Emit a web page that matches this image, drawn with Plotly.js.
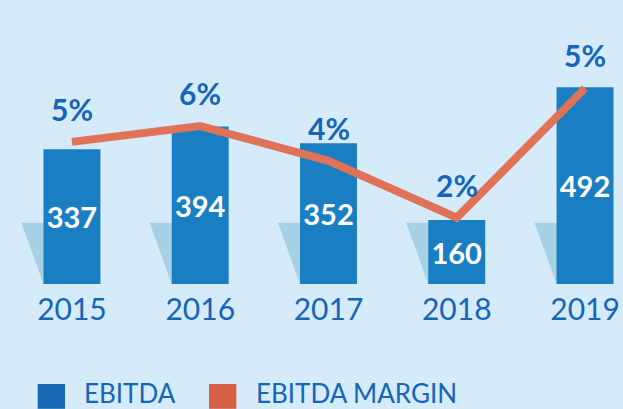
<!DOCTYPE html>
<html>
<head>
<meta charset="utf-8">
<script src="https://cdn.plot.ly/plotly-3.0.1.min.js"></script>
<style>html,body{margin:0;padding:0;background:#d5ebfa;}#chart{width:623px;height:409px;}</style>
</head>
<body>
<div id="chart"></div>
<script>
// Data
const years = ["2015", "2016", "2017", "2018", "2019"];
const ebitda = [337, 394, 352, 160, 492];
// EBITDA margin line as drawn (estimated heights on its own axis, %)
const marginLine = [4.5, 5.0, 3.9, 2.1, 6.2];
// Margin labels shown in the chart
const marginLabels = ["5%", "6%", "4%", "2%", "5%"];
const seriesNames = ["EBITDA", "EBITDA MARGIN"];

const BLUE = "#1a7fc2";
const LEGEND_BLUE = "#1467b3";
const ORANGE = "#e07257";
const LEGEND_ORANGE = "#d65f45";
const TEXT_BLUE = "#1565b8";
const FONT = "Lato, 'Open Sans', sans-serif";
const BAR_W = 0.444;

const barTrace = {
  type: "bar",
  x: years,
  y: ebitda,
  width: BAR_W,
  marker: {color: BLUE, line: {width: 0}},
  text: ebitda.map(v => "<b>" + v + "</b>"),
  textposition: "inside",
  insidetextanchor: "middle",
  textangle: 0,
  textfont: {family: FONT, size: 29, color: "#ffffff"},
  hoverinfo: "skip",
  showlegend: false,
  cliponaxis: false
};

const lineTrace = {
  type: "scatter",
  mode: "lines",
  x: years,
  y: marginLine,
  yaxis: "y2",
  line: {color: ORANGE, width: 8},
  hoverinfo: "skip",
  showlegend: false,
  cliponaxis: false
};

// Decorative shadows behind each bar
const shapes = years.map((_, i) => {
  const xl = i - BAR_W / 2;
  const off = 0.172;
  return {
    type: "path",
    xref: "x", yref: "y",
    path: `M ${xl - off},153 L ${xl + 0.1},153 L ${xl + 0.1},0 L ${xl},0 Z`,
    fillcolor: "#a6d0e4",
    line: {width: 0},
    layer: "below"
  };
});

// Legend swatches (drawn manually to match large squares)
const legendColors = [LEGEND_BLUE, LEGEND_ORANGE];
const legendX = [0.0605, 0.3355];
legendColors.forEach((c, k) => {
  shapes.push({
    type: "rect", xref: "paper", yref: "paper",
    x0: legendX[k], x1: legendX[k] + 0.0438,
    y0: -0.52, y1: -0.4167,
    fillcolor: c, line: {width: 0}
  });
});

const annotations = years.map((yr, i) => ({
  x: i, y: marginLine[i], xref: "x", yref: "y2",
  text: "<b>" + marginLabels[i] + "</b>",
  showarrow: false,
  yshift: 33,
  font: {family: FONT, size: 30, color: TEXT_BLUE}
}));

const legendTextX = [0.131, 0.408];
seriesNames.forEach((name, k) => {
  annotations.push({
    xref: "paper", yref: "paper",
    x: legendTextX[k], y: -0.454,
    xanchor: "left", yanchor: "middle",
    text: name, showarrow: false,
    font: {family: FONT, size: 26, color: TEXT_BLUE}
  });
});

const layout = {
  width: 623,
  height: 409,
  margin: {l: 0, r: 0, t: 44, b: 125, pad: 0},
  paper_bgcolor: "#d5ebfa",
  plot_bgcolor: "#d5ebfa",
  showlegend: false,
  xaxis: {
    type: "category",
    range: [-0.561, 4.296],
    showgrid: false, zeroline: false, showline: false,
    ticks: "",
    ticklabelstandoff: 5,
    tickfont: {family: FONT, size: 30, color: TEXT_BLUE},
    fixedrange: true
  },
  yaxis: {
    range: [0, 600],
    showticklabels: false, ticks: "",
    showgrid: false, zeroline: false, showline: false,
    fixedrange: true
  },
  yaxis2: {
    range: [0, 7.6],
    overlaying: "y",
    side: "right",
    showticklabels: false, ticks: "",
    showgrid: false, zeroline: false, showline: false,
    fixedrange: true
  },
  shapes: shapes,
  annotations: annotations
};

Plotly.newPlot("chart", [barTrace, lineTrace], layout, {displayModeBar: false, staticPlot: true});
</script>
</body>
</html>
